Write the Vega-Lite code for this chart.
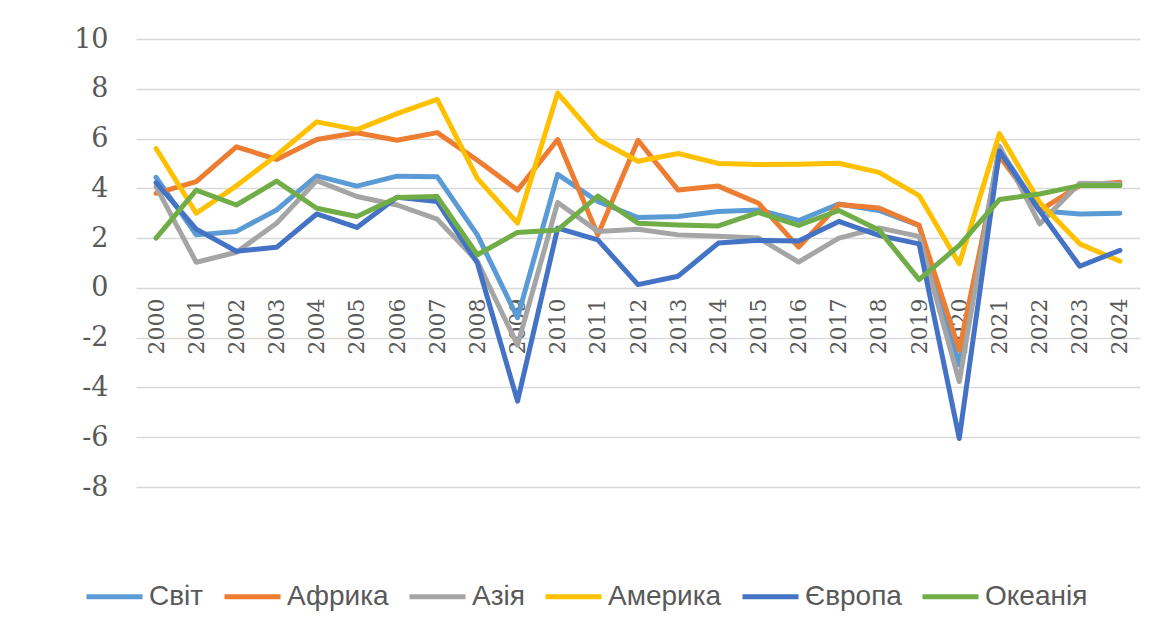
{
  "$schema": "https://vega.github.io/schema/vega-lite/v6.json",
  "width": 1004,
  "height": 448,
  "autosize": "none",
  "padding": {"left": 136, "top": 39, "right": 9, "bottom": 140},
  "background": "white",
  "config": {"view": {"stroke": null}, "font": "DejaVu Serif"},
  "data": {"values": [
    {"year": "2000", "region": "Світ", "value": 4.44},
    {"year": "2001", "region": "Світ", "value": 2.13},
    {"year": "2002", "region": "Світ", "value": 2.27},
    {"year": "2003", "region": "Світ", "value": 3.13},
    {"year": "2004", "region": "Світ", "value": 4.5},
    {"year": "2005", "region": "Світ", "value": 4.09},
    {"year": "2006", "region": "Світ", "value": 4.49},
    {"year": "2007", "region": "Світ", "value": 4.47},
    {"year": "2008", "region": "Світ", "value": 2.13},
    {"year": "2009", "region": "Світ", "value": -1.2},
    {"year": "2010", "region": "Світ", "value": 4.56},
    {"year": "2011", "region": "Світ", "value": 3.47},
    {"year": "2012", "region": "Світ", "value": 2.83},
    {"year": "2013", "region": "Світ", "value": 2.87},
    {"year": "2014", "region": "Світ", "value": 3.07},
    {"year": "2015", "region": "Світ", "value": 3.13},
    {"year": "2016", "region": "Світ", "value": 2.71},
    {"year": "2017", "region": "Світ", "value": 3.37},
    {"year": "2018", "region": "Світ", "value": 3.11},
    {"year": "2019", "region": "Світ", "value": 2.51},
    {"year": "2020", "region": "Світ", "value": -3.1},
    {"year": "2021", "region": "Світ", "value": 5.6},
    {"year": "2022", "region": "Світ", "value": 3.1},
    {"year": "2023", "region": "Світ", "value": 2.97},
    {"year": "2024", "region": "Світ", "value": 3.0},

    {"year": "2000", "region": "Африка", "value": 3.8},
    {"year": "2001", "region": "Африка", "value": 4.27},
    {"year": "2002", "region": "Африка", "value": 5.67},
    {"year": "2003", "region": "Африка", "value": 5.16},
    {"year": "2004", "region": "Африка", "value": 5.96},
    {"year": "2005", "region": "Африка", "value": 6.23},
    {"year": "2006", "region": "Африка", "value": 5.93},
    {"year": "2007", "region": "Африка", "value": 6.24},
    {"year": "2008", "region": "Африка", "value": 5.13},
    {"year": "2009", "region": "Африка", "value": 3.93},
    {"year": "2010", "region": "Африка", "value": 5.96},
    {"year": "2011", "region": "Африка", "value": 2.13},
    {"year": "2012", "region": "Африка", "value": 5.93},
    {"year": "2013", "region": "Африка", "value": 3.93},
    {"year": "2014", "region": "Африка", "value": 4.09},
    {"year": "2015", "region": "Африка", "value": 3.4},
    {"year": "2016", "region": "Африка", "value": 1.64},
    {"year": "2017", "region": "Африка", "value": 3.35},
    {"year": "2018", "region": "Африка", "value": 3.21},
    {"year": "2019", "region": "Африка", "value": 2.51},
    {"year": "2020", "region": "Африка", "value": -2.5},
    {"year": "2021", "region": "Африка", "value": 5.3},
    {"year": "2022", "region": "Африка", "value": 3.1},
    {"year": "2023", "region": "Африка", "value": 4.11},
    {"year": "2024", "region": "Африка", "value": 4.24},

    {"year": "2000", "region": "Азія", "value": 4.07},
    {"year": "2001", "region": "Азія", "value": 1.03},
    {"year": "2002", "region": "Азія", "value": 1.43},
    {"year": "2003", "region": "Азія", "value": 2.6},
    {"year": "2004", "region": "Азія", "value": 4.31},
    {"year": "2005", "region": "Азія", "value": 3.67},
    {"year": "2006", "region": "Азія", "value": 3.33},
    {"year": "2007", "region": "Азія", "value": 2.76},
    {"year": "2008", "region": "Азія", "value": 1.07},
    {"year": "2009", "region": "Азія", "value": -2.3},
    {"year": "2010", "region": "Азія", "value": 3.43},
    {"year": "2011", "region": "Азія", "value": 2.27},
    {"year": "2012", "region": "Азія", "value": 2.36},
    {"year": "2013", "region": "Азія", "value": 2.13},
    {"year": "2014", "region": "Азія", "value": 2.07},
    {"year": "2015", "region": "Азія", "value": 2.0},
    {"year": "2016", "region": "Азія", "value": 1.04},
    {"year": "2017", "region": "Азія", "value": 2.0},
    {"year": "2018", "region": "Азія", "value": 2.41},
    {"year": "2019", "region": "Азія", "value": 2.07},
    {"year": "2020", "region": "Азія", "value": -3.76},
    {"year": "2021", "region": "Азія", "value": 5.7},
    {"year": "2022", "region": "Азія", "value": 2.57},
    {"year": "2023", "region": "Азія", "value": 4.2},
    {"year": "2024", "region": "Азія", "value": 4.17},

    {"year": "2000", "region": "Америка", "value": 5.6},
    {"year": "2001", "region": "Америка", "value": 3.0},
    {"year": "2002", "region": "Америка", "value": 4.1},
    {"year": "2003", "region": "Америка", "value": 5.33},
    {"year": "2004", "region": "Америка", "value": 6.67},
    {"year": "2005", "region": "Америка", "value": 6.36},
    {"year": "2006", "region": "Америка", "value": 7.0},
    {"year": "2007", "region": "Америка", "value": 7.57},
    {"year": "2008", "region": "Америка", "value": 4.4},
    {"year": "2009", "region": "Америка", "value": 2.6},
    {"year": "2010", "region": "Америка", "value": 7.83},
    {"year": "2011", "region": "Америка", "value": 5.96},
    {"year": "2012", "region": "Америка", "value": 5.09},
    {"year": "2013", "region": "Америка", "value": 5.4},
    {"year": "2014", "region": "Америка", "value": 5.0},
    {"year": "2015", "region": "Америка", "value": 4.96},
    {"year": "2016", "region": "Америка", "value": 4.97},
    {"year": "2017", "region": "Америка", "value": 5.01},
    {"year": "2018", "region": "Америка", "value": 4.64},
    {"year": "2019", "region": "Америка", "value": 3.71},
    {"year": "2020", "region": "Америка", "value": 0.97},
    {"year": "2021", "region": "Америка", "value": 6.2},
    {"year": "2022", "region": "Америка", "value": 3.44},
    {"year": "2023", "region": "Америка", "value": 1.77},
    {"year": "2024", "region": "Америка", "value": 1.07},

    {"year": "2000", "region": "Європа", "value": 4.23},
    {"year": "2001", "region": "Європа", "value": 2.36},
    {"year": "2002", "region": "Європа", "value": 1.47},
    {"year": "2003", "region": "Європа", "value": 1.63},
    {"year": "2004", "region": "Європа", "value": 2.97},
    {"year": "2005", "region": "Європа", "value": 2.43},
    {"year": "2006", "region": "Європа", "value": 3.64},
    {"year": "2007", "region": "Європа", "value": 3.47},
    {"year": "2008", "region": "Європа", "value": 1.0},
    {"year": "2009", "region": "Європа", "value": -4.55},
    {"year": "2010", "region": "Європа", "value": 2.4},
    {"year": "2011", "region": "Європа", "value": 1.93},
    {"year": "2012", "region": "Європа", "value": 0.13},
    {"year": "2013", "region": "Європа", "value": 0.47},
    {"year": "2014", "region": "Європа", "value": 1.8},
    {"year": "2015", "region": "Європа", "value": 1.91},
    {"year": "2016", "region": "Європа", "value": 1.88},
    {"year": "2017", "region": "Європа", "value": 2.67},
    {"year": "2018", "region": "Європа", "value": 2.11},
    {"year": "2019", "region": "Європа", "value": 1.77},
    {"year": "2020", "region": "Європа", "value": -6.05},
    {"year": "2021", "region": "Європа", "value": 5.5},
    {"year": "2022", "region": "Європа", "value": 3.1},
    {"year": "2023", "region": "Європа", "value": 0.87},
    {"year": "2024", "region": "Європа", "value": 1.51},

    {"year": "2000", "region": "Океанія", "value": 2.0},
    {"year": "2001", "region": "Океанія", "value": 3.93},
    {"year": "2002", "region": "Океанія", "value": 3.33},
    {"year": "2003", "region": "Океанія", "value": 4.29},
    {"year": "2004", "region": "Океанія", "value": 3.2},
    {"year": "2005", "region": "Океанія", "value": 2.87},
    {"year": "2006", "region": "Океанія", "value": 3.63},
    {"year": "2007", "region": "Океанія", "value": 3.67},
    {"year": "2008", "region": "Океанія", "value": 1.33},
    {"year": "2009", "region": "Океанія", "value": 2.23},
    {"year": "2010", "region": "Океанія", "value": 2.33},
    {"year": "2011", "region": "Океанія", "value": 3.69},
    {"year": "2012", "region": "Океанія", "value": 2.6},
    {"year": "2013", "region": "Океанія", "value": 2.53},
    {"year": "2014", "region": "Океанія", "value": 2.49},
    {"year": "2015", "region": "Океанія", "value": 3.03},
    {"year": "2016", "region": "Океанія", "value": 2.51},
    {"year": "2017", "region": "Океанія", "value": 3.11},
    {"year": "2018", "region": "Океанія", "value": 2.33},
    {"year": "2019", "region": "Океанія", "value": 0.33},
    {"year": "2020", "region": "Океанія", "value": 1.71},
    {"year": "2021", "region": "Океанія", "value": 3.55},
    {"year": "2022", "region": "Океанія", "value": 3.77},
    {"year": "2023", "region": "Океанія", "value": 4.11},
    {"year": "2024", "region": "Океанія", "value": 4.11}
  ]},
  "mark": {"type": "line", "strokeWidth": 5, "strokeJoin": "round", "strokeCap": "round"},
  "encoding": {
    "x": {
      "field": "year", "type": "ordinal",
      "scale": {"type": "point", "padding": 0.5},
      "axis": {"title": null, "labelAngle": -90, "offset": -199, "domain": false, "ticks": false, "grid": false,
               "labelFontSize": 22, "labelColor": "#595959", "labelPadding": 10,
               "labelFont": "DejaVu Serif"}
    },
    "y": {
      "field": "value", "type": "quantitative",
      "scale": {"domain": [-8, 10], "nice": false, "zero": false},
      "axis": {"title": null, "values": [-8, -6, -4, -2, 0, 2, 4, 6, 8, 10], "domain": false, "ticks": false,
               "labelExpr": "'' + datum.value",
               "labelFontSize": 27, "labelColor": "#595959", "labelPadding": 28,
               "labelFont": "DejaVu Serif",
               "gridColor": "#D9D9D9", "gridWidth": 1.5}
    },
    "color": {
      "field": "region", "type": "nominal",
      "scale": {"domain": ["Світ", "Африка", "Азія", "Америка", "Європа", "Океанія"],
                "range": ["#5B9BD5", "#ED7D31", "#A5A5A5", "#FFC000", "#4472C4", "#70AD47"]},
      "legend": {"title": null, "orient": "none", "legendX": -52, "legendY": 527, "direction": "horizontal",
                 "symbolType": "stroke", "symbolSize": 3136, "symbolStrokeWidth": 5,
                 "labelFontSize": 28, "labelColor": "#595959",
                 "labelFont": "Liberation Sans",
                 "labelOffset": 4, "columnPadding": 10, "labelLimit": 300}
    }
  }
}
